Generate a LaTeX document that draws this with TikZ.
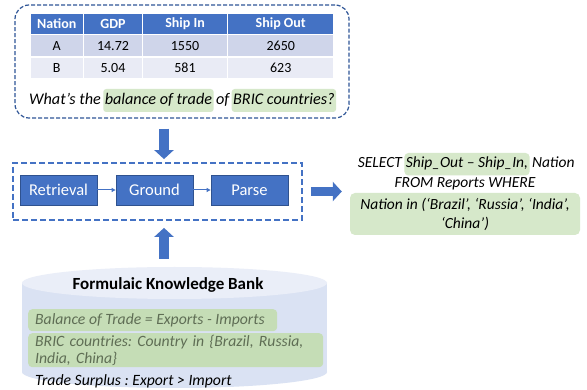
\documentclass[tikz,border=0pt]{standalone}
\usepackage{fontspec}
\setmainfont{Carlito}
\usetikzlibrary{arrows.meta,positioning,calc}
\definecolor{obl}{RGB}{68,114,196}
\definecolor{obd}{RGB}{47,82,143}
\definecolor{navy}{RGB}{47,85,151}
\definecolor{rowa}{RGB}{207,213,234}
\definecolor{rowb}{RGB}{233,235,245}
\definecolor{hlg}{RGB}{214,232,202}
\definecolor{kbg}{RGB}{197,221,182}
\definecolor{kbtxt}{RGB}{95,110,85}
\definecolor{cylb}{RGB}{218,226,243}
\definecolor{cylt}{RGB}{234,238,248}
\frenchspacing
\begin{document}
\begin{tikzpicture}[x=1pt,y=-1pt,
  cell/.style={draw=white, line width=1.2pt, inner sep=0pt, font=\fontsize{14}{16}\selectfont},
  hcell/.style={cell, fill=obl, text=white, font=\fontsize{14}{16}\selectfont\bfseries},
  acell/.style={cell, fill=rowa},
  bcell/.style={cell, fill=rowb},
  qtext/.style={inner sep=0pt, font=\fontsize{16.2}{19}\selectfont\itshape},
  qhl/.style={qtext, fill=hlg, rounded corners=3pt, inner xsep=1.5pt, inner ysep=4pt, text height=11.5pt, text depth=3.5pt},
  qframe/.style={draw=navy, line width=1.2pt, dash pattern=on 4pt off 2pt, rounded corners=14pt, inner sep=0pt},
  pipeframe/.style={draw=obl, line width=1.8pt, dash pattern=on 6pt off 3pt, inner sep=0pt},
  stage/.style={fill=obl, draw=obd, line width=0.8pt, text=white, minimum width=77pt, minimum height=30pt, inner sep=0pt, font=\fontsize{16.5}{19}\selectfont},
  smallarrow/.style={draw=obl, line width=1pt, -{Triangle[length=4pt,width=4pt]}},
  bigarrow/.style={draw=obl, line width=9.5pt, -{Triangle[length=9pt,width=19pt]}},
  sqltext/.style={inner sep=0pt, font=\fontsize{15.5}{19}\selectfont\itshape},
  sqlhl/.style={sqltext, fill=hlg, rounded corners=4pt, inner xsep=1.5pt, inner ysep=4pt, text height=11pt, text depth=3.5pt},
  kbtitle/.style={inner sep=0pt, font=\fontsize{17}{20}\selectfont\bfseries},
  kbhl/.style={fill=kbg, rounded corners=4pt, inner xsep=7pt, inner ysep=0pt, align=left, text=kbtxt, font=\fontsize{15.7}{16.5}\selectfont\itshape},
  kbplain/.style={inner sep=0pt, font=\fontsize{15.7}{16.5}\selectfont\itshape}
]
\clip (0,0) rectangle (587,390);
\fill[white] (0,0) rectangle (587,390);

% ---------- question box ----------
\node[qframe, minimum width=334pt, minimum height=113pt] (qbox) at (182,61.5) {};
% header
\node[hcell, minimum width=53.5pt, minimum height=21.5pt] (h1) at (56.75,23.75) {Nation};
\node[hcell, minimum width=59pt,   minimum height=21.5pt] (h2) at (113,23.75) {GDP};
\node[hcell, minimum width=85pt,   minimum height=21.5pt] (h3) at (185,23.75) {Ship In};
\node[hcell, minimum width=106.5pt,minimum height=21.5pt] (h4) at (280.75,23.75) {Ship Out};
% row A
\node[acell, minimum width=53.5pt, minimum height=22.5pt] (a1) at (56.75,45.75) {A};
\node[acell, minimum width=59pt,   minimum height=22.5pt] (a2) at (113,45.75) {14.72};
\node[acell, minimum width=85pt,   minimum height=22.5pt] (a3) at (185,45.75) {1550};
\node[acell, minimum width=106.5pt,minimum height=22.5pt] (a4) at (280.75,45.75) {2650};
% row B
\node[bcell, minimum width=53.5pt, minimum height=22pt] (b1) at (56.75,68) {B};
\node[bcell, minimum width=59pt,   minimum height=22pt] (b2) at (113,68) {5.04};
\node[bcell, minimum width=85pt,   minimum height=22pt] (b3) at (185,68) {581};
\node[bcell, minimum width=106.5pt,minimum height=22pt] (b4) at (280.75,68) {623};
% question
\node[qtext, anchor=base west] (q1) at (29,104.5) {What’s the};
\node[qhl, anchor=base west] (q2) at ([xshift=2pt]q1.base east) {balance of trade};
\node[qtext, anchor=base west] (q3) at ([xshift=2pt]q2.base east) {of};
\node[qhl, anchor=base west] (q4) at ([xshift=2pt]q3.base east) {BRIC countries?};

% ---------- pipeline ----------
\node[pipeframe, minimum width=289pt, minimum height=57pt] (pipe) at (157.5,191.5) {};
\node[stage] (ret) at (58.5,190) {Retrieval};
\node[stage] (gro) at (154.5,190) {Ground};
\node[stage] (par) at (249.5,190) {Parse};
\draw[smallarrow] (ret) -- (gro);
\draw[smallarrow] (gro) -- (par);

% ---------- SQL ----------
\node[sqlhl, anchor=base] (sqlA) at (467,168) {Ship\_Out – Ship\_In,};
\node[sqltext, anchor=base east] (sqlS) at ([xshift=-2pt]sqlA.base west) {SELECT};
\node[sqltext, anchor=base west] (sqlN) at ([xshift=2pt]sqlA.base east) {Nation};
\node[sqltext, anchor=base] (sqlF) at (465,188) {FROM Reports WHERE};
\node[sqltext, fill=hlg, rounded corners=5pt, minimum width=230pt, minimum height=42pt, align=center] (sqlbox) at (465,214) {Nation in (‘Brazil’, ‘Russia’, ‘India’,\\‘China’)};

% ---------- knowledge bank ----------
\fill[cylb] (22,283) rectangle (327,372);
\fill[cylb] (174.5,372) ellipse [x radius=152.5pt, y radius=16pt];
\fill[cylt] (174.5,283) ellipse [x radius=152.5pt, y radius=16pt];
\coordinate (kbtop) at (164,267);
\node[kbtitle] (kbt) at (168,285) {Formulaic Knowledge Bank};
\node[kbhl, anchor=north west, minimum height=22pt] (kb1) at (28,309) {\makebox[235pt][l]{Balance of Trade = Exports - Imports}};
\node[kbhl, anchor=north west, text width=281pt, minimum height=34pt] (kb2) at (28,333) {BRIC countries: Country in \{Brazil, Russia,\\India, China\}};
\node[kbplain, anchor=base west] (kb3) at (35,385) {Trade Surplus : Export > Import};

% ---------- block arrows ----------
\draw[bigarrow, shorten <=10pt, shorten >=3pt] ([xshift=-18pt]qbox.south) -- ([xshift=6.5pt]pipe.north);
\draw[bigarrow, shorten <=8pt, shorten >=7pt] (kbtop) -- ([xshift=6.5pt]pipe.south);
\draw[bigarrow, shorten <=8pt, shorten >=8pt] (pipe.east) -- (sqlbox.west |- pipe.east);
\end{tikzpicture}
\end{document}
